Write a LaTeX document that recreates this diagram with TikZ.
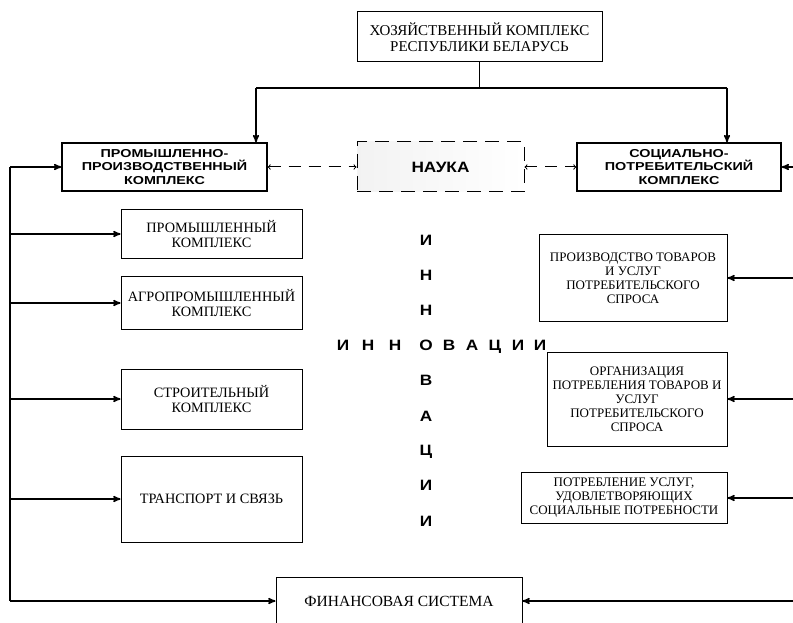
\documentclass[tikz,border=0pt]{standalone}
\usepackage{fontspec}
\setmainfont{Liberation Serif}
\newfontfamily\headfont[FakeStretch=1.25]{Liberation Sans}
\newfontfamily\innfont[FakeStretch=1.15]{Liberation Sans}
\usetikzlibrary{arrows}

\begin{document}
\begin{tikzpicture}[x=1pt,y=-1pt,>=stealth',semithick,
    box/.style={draw=black,line width=1pt,align=center,inner sep=0pt,font=\fontsize{14.3}{15.5}\selectfont},
    rbox/.style={box,font=\fontsize{13}{14}\selectfont},
    headbox/.style={draw=black,line width=1.4pt,align=center,inner sep=0pt,font=\headfont\bfseries\fontsize{11.5}{13.5}\selectfont},
    letter/.style={font=\innfont\bfseries\fontsize{15}{15}\selectfont,inner sep=0pt,text height=11pt,text depth=0pt},
    link/.style={->,line width=1.5pt},
    sciencelink/.style={<->,>=to,dash pattern=on 12pt off 8pt,line width=1pt}]
                \useasboundingbox (0,0) rectangle (793,623);
                % top level
                \node[box,minimum width=245pt,minimum height=50pt,font=\fontsize{15}{16}\selectfont](hoz)at(479.5, 37){ХОЗЯЙСТВЕННЫЙ КОМПЛЕКС\\РЕСПУБЛИКИ БЕЛАРУСЬ};
                \node[headbox,minimum width=205pt,minimum height=48pt](pp)at(164.5, 167){ПРОМЫШЛЕННО-\\ПРОИЗВОДСТВЕННЫЙ\\КОМПЛЕКС};
                \node[draw=black,line width=1pt,dash pattern=on 14pt off 8pt,left color=black!5,right color=white,
                      minimum width=167pt,minimum height=50pt,font=\innfont\bfseries\fontsize{15}{16}\selectfont](nauka)at(440.5, 167){НАУКА};
                \node[headbox,minimum width=204pt,minimum height=48pt](sp)at(679, 167){СОЦИАЛЬНО-\\ПОТРЕБИТЕЛЬСКИЙ\\КОМПЛЕКС};
                % left column
                \node[box,minimum width=181pt,minimum height=49pt](prom)at(211.5, 234){ПРОМЫШЛЕННЫЙ\\КОМПЛЕКС};
                \node[box,minimum width=181pt,minimum height=53pt](agro)at(211.5, 303){АГРОПРОМЫШЛЕННЫЙ\\КОМПЛЕКС};
                \node[box,minimum width=181pt,minimum height=60pt](stroi)at(211.5, 399){СТРОИТЕЛЬНЫЙ\\КОМПЛЕКС};
                \node[box,minimum width=181pt,minimum height=86pt](trans)at(211.5, 499){ТРАНСПОРТ И СВЯЗЬ};
                % right column
                \node[rbox,minimum width=188pt,minimum height=87pt](proizv)at(633, 278){ПРОИЗВОДСТВО ТОВАРОВ\\И УСЛУГ\\ПОТРЕБИТЕЛЬСКОГО\\СПРОСА};
                \node[rbox,minimum width=180pt,minimum height=94pt](org)at(637, 399){ОРГАНИЗАЦИЯ\\ПОТРЕБЛЕНИЯ ТОВАРОВ И\\УСЛУГ\\ПОТРЕБИТЕЛЬСКОГО\\СПРОСА};
                \node[rbox,minimum width=206pt,minimum height=51pt](potr)at(624, 498){ПОТРЕБЛЕНИЕ УСЛУГ,\\УДОВЛЕТВОРЯЮЩИХ\\СОЦИАЛЬНЫЕ ПОТРЕБНОСТИ};
                % bottom
                \node[box,minimum width=246pt,minimum height=48pt,font=\fontsize{15.5}{16}\selectfont](fin)at(399, 601){ФИНАНСОВАЯ СИСТЕМА};
                % innovation cross
                \foreach \x/\ch [count=\i] in {343/И,368/Н,395/Н,426/О,449/В,472/А,495/Ц,518/И,540/И}
                    \node[letter](row\i)at(\x, 345){\ch};
                \foreach \y/\ch [count=\i] in {240/И,275/Н,310/Н,380/В,416/А,450/Ц,485/И,521/И}
                    \node[letter](col\i)at(426, \y){\ch};
                % connectors from the top box
                \coordinate (forkL) at (256, 88);
                \coordinate (forkR) at (727, 88);
                \draw[line width=1.5pt] (hoz.south) |- (forkL);
                \draw[line width=1.5pt] (hoz.south) |- (forkR);
                \draw[link] (forkL) -- (forkL |- pp.north);
                \draw[link] (forkR) -- (forkR |- sp.north);
                \path[sciencelink] (pp) edge (nauka)
                    (nauka) edge (sp);
                % left bus
                \coordinate (busT) at (10, 167);
                \coordinate (busB) at (10, 601);
                \draw[line width=1.5pt] (busT) -- (busB);
                \draw[link] (busT) -- (pp);
                \draw[link] (busT |- prom) -- (prom);
                \draw[link] (busT |- agro) -- (agro);
                \draw[link] (busT |- stroi) -- (stroi);
                \draw[link] (busT |- trans) -- (trans);
                \draw[link] (busB) -- (fin);
                % right side
                \coordinate (busR) at (795, 0);
                \draw[link] (busR |- sp) -- (sp);
                \draw[link] (busR |- proizv) -- (proizv);
                \draw[link] (busR |- org) -- (org);
                \draw[link] (busR |- potr) -- (potr);
                \draw[link] (busR |- fin) -- (fin);
\end{tikzpicture}
\end{document}
